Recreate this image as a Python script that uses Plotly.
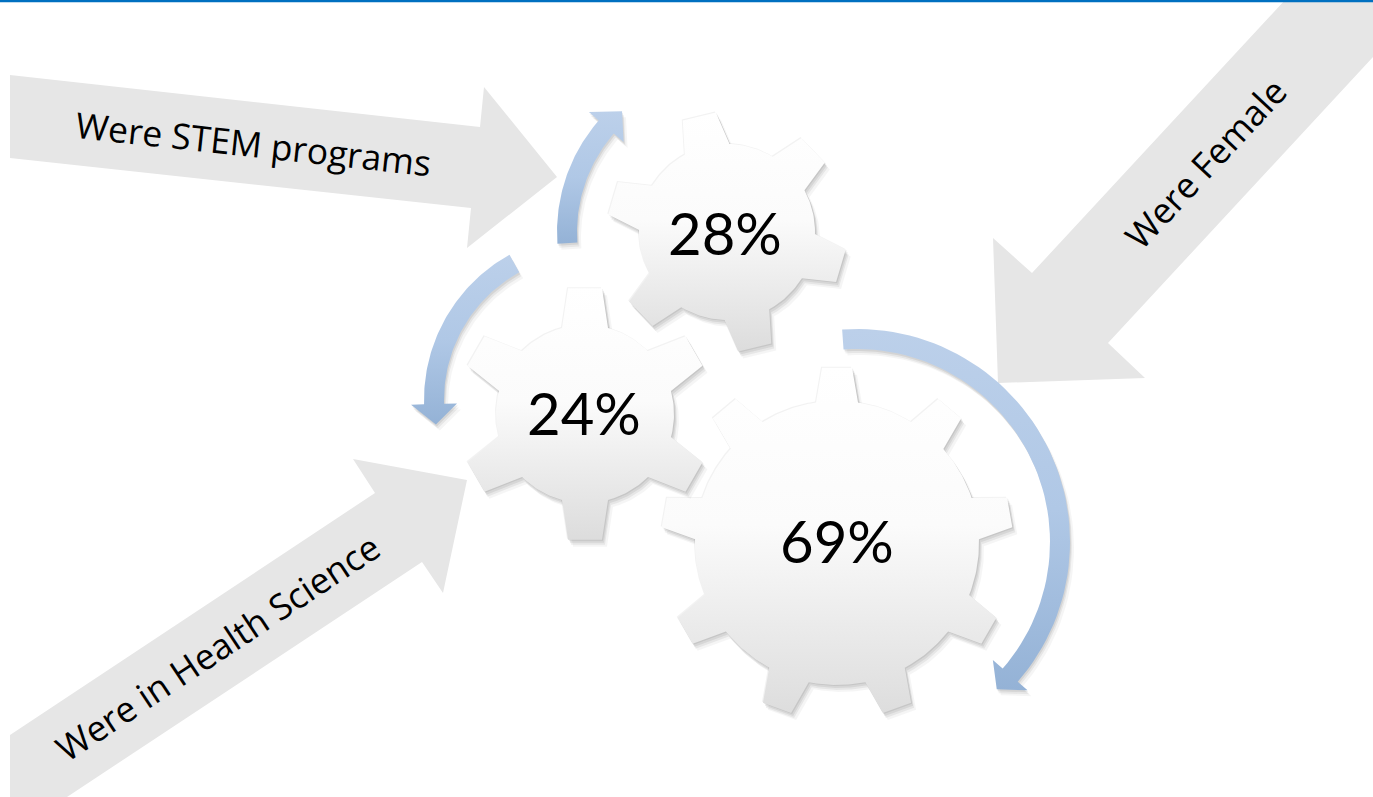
import numpy as np
import plotly.graph_objects as go

W, H = 1373, 797

# ---------------- data ----------------
gear_values = [28, 24, 69]
gear_labels = [f"{v}%" for v in gear_values]
arrow_labels = ["Were STEM programs", "Were in Health Science", "Were Female"]

# ---------------- geometry (pixel space) ----------------
gear_cx = [727, 585, 837]
gear_cy = [232, 414, 543]
gear_body_r = [88, 89, 142]
gear_tip_r = [120, 127, 176]
gear_teeth = [6, 6, 9]
gear_rot = [-13.5, 0, 0]          # degrees, clockwise from 12 o'clock
gear_base_hw = [23, 23, 21]
gear_tip_hw = [17, 17, 15]
gear_text_xy = [(725, 232), (584, 412), (837, 540)]

arc_cx = [727, 590, 857]
arc_cy = [232, 400, 542]
arc_r = [160, 156, 203]
arc_start = [184, 119, 94]        # math degrees (counter-clockwise, y up)
arc_head = [139, 181.5, -41]
arc_tip = [131, 189, -46.5]
arc_hw = 10
arc_head_hw = 23

gray_arrows = [
    [(10, 75), (480, 127), (484, 87), (557, 177), (467, 248), (471, 208), (10, 158)],
    [(10, 735), (375, 493), (353, 459), (467, 480), (443, 593), (422, 562), (67, 797), (10, 797)],
    [(1285, 0), (1373, 0), (1373, 57), (1108, 343), (1145, 378), (998, 383), (993, 238), (1032, 273)],
]
label_xy = [(253, 143), (217, 647), (1205, 163)]
label_angle = [6.2, -33.5, -47]

LABEL_FONT = "Open Sans"
PCT_FONT = "Lato"


def gear_polygon(cx, cy, rb, rt, n, rot, bhw, thw):
    ab = np.degrees(np.arcsin(bhw / rb))
    at = np.degrees(np.arcsin(thw / rt))
    step = 360.0 / n
    xs, ys = [], []

    def pt(r, phi):
        p = np.radians(phi)
        return cx + r * np.sin(p), cy - r * np.cos(p)

    for k in range(n):
        phi = rot + k * step
        nxt = phi + step
        for r, a in [(rb, phi - ab), (rt, phi - at), (rt, phi + at), (rb, phi + ab)]:
            x, y = pt(r, a)
            xs.append(x); ys.append(y)
        for a in np.linspace(phi + ab, nxt - ab, 24)[1:-1]:
            x, y = pt(rb, a)
            xs.append(x); ys.append(y)
    xs.append(xs[0]); ys.append(ys[0])
    return np.array(xs), np.array(ys)


def arc_arrow(cx, cy, r, t0, t1, t2, hw, hhw):
    def pt(rr, t):
        tr = np.radians(t)
        return cx + rr * np.cos(tr), cy - rr * np.sin(tr)
    ts = np.linspace(t0, t1, 60)
    xs, ys = [], []
    for t in ts:
        x, y = pt(r + hw, t); xs.append(x); ys.append(y)
    for rr, t in [(r + hhw, t1), (r, t2), (r - hhw, t1)]:
        x, y = pt(rr, t); xs.append(x); ys.append(y)
    for t in ts[::-1]:
        x, y = pt(r - hw, t); xs.append(x); ys.append(y)
    xs.append(xs[0]); ys.append(ys[0])
    return np.array(xs), np.array(ys)


fig = go.Figure()


def poly(xs, ys, color=None, gradient=None):
    kw = dict(x=list(xs), y=list(ys), mode="lines", fill="toself",
              line=dict(width=0, color="rgba(0,0,0,0)"),
              hoverinfo="skip", showlegend=False)
    if gradient is not None:
        kw["fillgradient"] = gradient
        kw["fillcolor"] = gradient["colorscale"][0][1]
    else:
        kw["fillcolor"] = color
    fig.add_trace(go.Scatter(**kw))


# gray arrows
for pts in gray_arrows:
    xs = [p[0] for p in pts] + [pts[0][0]]
    ys = [p[1] for p in pts] + [pts[0][1]]
    poly(xs, ys, color="#e6e6e6")

# gears (shadow + gradient body)
for i in [2, 0, 1]:
    xs, ys = gear_polygon(gear_cx[i], gear_cy[i], gear_body_r[i], gear_tip_r[i],
                          gear_teeth[i], gear_rot[i], gear_base_hw[i], gear_tip_hw[i])
    for dx, dy, a in [(1, 1, 0.07), (2, 3, 0.07), (3, 5, 0.06), (5, 7, 0.04)]:
        poly(xs + dx, ys + dy, color=f"rgba(0,0,0,{a})")
    poly(xs - 1, ys - 1, color="rgba(0,0,0,0.05)")
    grad = dict(type="vertical", start=gear_cy[i] - gear_tip_r[i], stop=gear_cy[i] + gear_tip_r[i],
                colorscale=[[0, "#ffffff"], [0.45, "#fbfbfb"], [1, "#dcdcdc"]])
    poly(xs, ys, gradient=grad)

# blue curved arrows
for i in range(3):
    xs, ys = arc_arrow(arc_cx[i], arc_cy[i], arc_r[i], arc_start[i], arc_head[i], arc_tip[i],
                       arc_hw, arc_head_hw)
    for dx, dy, a in [(1, 2, 0.08), (2, 4, 0.06), (4, 6, 0.04)]:
        poly(xs + dx, ys + dy, color=f"rgba(0,0,0,{a})")
    grad = dict(type="vertical", start=float(ys.min()), stop=float(ys.max()),
                colorscale=[[0, "#bcd0ea"], [0.5, "#b0c8e6"], [1, "#94b2d6"]])
    poly(xs, ys, gradient=grad)

# top blue rule
fig.add_trace(go.Scatter(x=[0, W], y=[1, 1], mode="lines",
                         line=dict(color="#0070c0", width=2.5),
                         hoverinfo="skip", showlegend=False))

# gear labels
for i, lab in enumerate(gear_labels):
    fig.add_annotation(x=gear_text_xy[i][0], y=gear_text_xy[i][1], text=lab,
                       showarrow=False, xanchor="center", yanchor="middle",
                       font=dict(family=PCT_FONT, size=58, color="#000000"))

# arrow labels
for i, lab in enumerate(arrow_labels):
    fig.add_annotation(x=label_xy[i][0], y=label_xy[i][1], text=lab, textangle=label_angle[i],
                       showarrow=False, xanchor="center", yanchor="middle",
                       font=dict(family=LABEL_FONT, size=35.5, color="#000000"))

fig.update_layout(
    width=W, height=H,
    margin=dict(l=0, r=0, t=0, b=0),
    paper_bgcolor="white", plot_bgcolor="white",
    xaxis=dict(range=[0, W], visible=False, fixedrange=True),
    yaxis=dict(range=[H, 0], visible=False, fixedrange=True),
)

fig.write_html("out.html", config={"displayModeBar": False},
               post_script="document.body.style.margin='0px';document.body.style.overflow='hidden';")
